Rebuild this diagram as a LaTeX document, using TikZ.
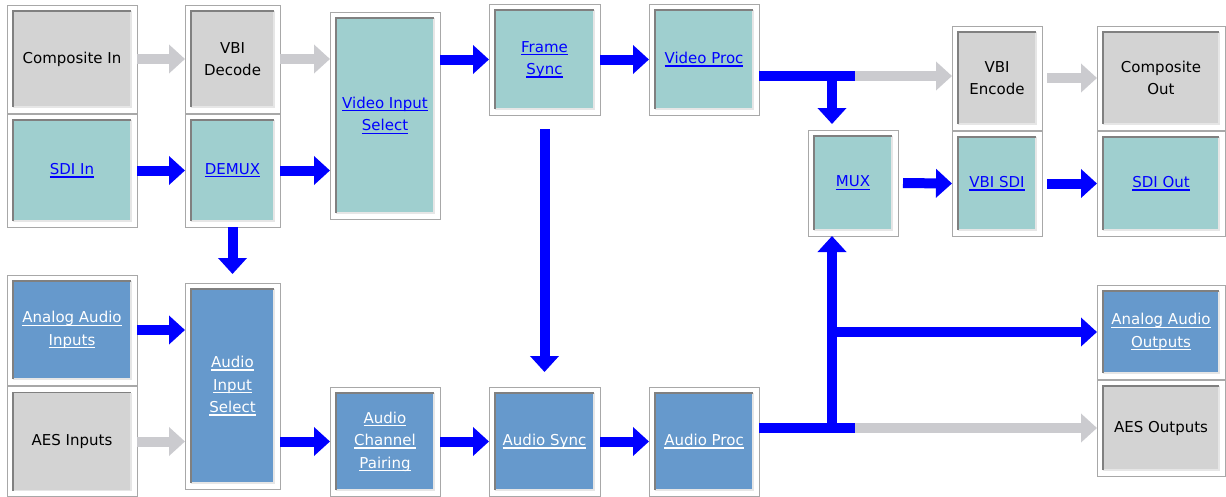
\documentclass[tikz,border=0pt]{standalone}
\usepackage{fontspec}
\setmainfont{DejaVu Sans}
\usetikzlibrary{arrows.meta,calc}
\definecolor{vidc}{HTML}{9FCFCF}
\definecolor{audc}{HTML}{6699CC}
\definecolor{grayc}{HTML}{D3D3D3}
\definecolor{garr}{HTML}{CBCBCF}
\definecolor{barb}{HTML}{0000FF}
\definecolor{linkb}{HTML}{0000FF}
\definecolor{frameD}{HTML}{A8A8A8}
\definecolor{innerD}{HTML}{808080}
\definecolor{innerL}{HTML}{E6E6E6}
\newcommand\lk[1]{\setbox0\hbox{#1}\rlap{\rule[-3pt]{\wd0}{1.3pt}}\box0}
\tikzset{
  blk/.style={draw=frameD, line width=1pt, fill=white, inner sep=0pt, outer sep=0pt,
    align=center, font=\fontsize{15}{22.5}\selectfont,
    path picture={
      \coordinate (pSW) at ($(path picture bounding box.south west)+(6,-6)$);
      \coordinate (pNE) at ($(path picture bounding box.north east)+(-6,6)$);
      \fill[#1] (pSW) rectangle (pNE);
      \draw[innerL, line width=1.5pt] (pSW) -| (pNE);
      \draw[innerD, line width=1.5pt] (pSW) |- (pNE);
    }},
  vbox/.style={blk=vidc, text=linkb},
  abox/.style={blk=audc, text=white},
  gbox/.style={blk=grayc, text=black},
  barrow/.style={draw=barb, line width=10pt, -{Triangle[width=28pt,length=16pt]}},
  garrow/.style={draw=garr, line width=10pt, -{Triangle[width=28pt,length=16pt]}},
  bline/.style={draw=barb, line width=10pt},
}
\begin{document}
\begin{tikzpicture}[x=1pt,y=-1pt]
\useasboundingbox (0,0) rectangle (1226,496);
% top left column
\node[gbox, minimum width=130pt, minimum height=108pt] (cin) at (72,59) {Composite In};
\node[vbox, minimum width=130pt, minimum height=113pt] (sdiin) at (72,170.5) {\lk{SDI In}};
\node[gbox, minimum width=95pt, minimum height=108pt] (vbid) at (232.5,59) {VBI\\Decode};
\node[vbox, minimum width=95pt, minimum height=113pt] (demux) at (232.5,170.5) {\lk{DEMUX}};
\node[vbox, minimum width=110pt, minimum height=207pt] (vis) at (385,115.5) {\lk{Video Input}\\\lk{Select}};
\node[vbox, minimum width=111pt, minimum height=111pt] (fs) at (544.5,59.5) {\lk{Frame}\\\lk{Sync}};
\node[vbox, minimum width=110pt, minimum height=111pt] (vp) at (704,59.5) {\lk{Video Proc}};
\node[vbox, minimum width=90pt, minimum height=106pt] (mux) at (853,183) {\lk{MUX}};
\node[gbox, minimum width=90pt, minimum height=104pt] (vbie) at (997,78) {VBI\\Encode};
\node[vbox, minimum width=90pt, minimum height=105pt] (vbisdi) at (997,183.5) {\lk{VBI SDI}};
\node[gbox, minimum width=128pt, minimum height=104pt] (cout) at (1161,78) {Composite\\Out};
\node[vbox, minimum width=128pt, minimum height=105pt] (sdiout) at (1161,183.5) {\lk{SDI Out}};
% audio
\node[abox, minimum width=130pt, minimum height=110pt] (aain) at (72,330) {\lk{Analog Audio}\\\lk{Inputs}};
\node[gbox, minimum width=130pt, minimum height=110pt] (aesin) at (72,441.5) {AES Inputs};
\node[abox, minimum width=95pt, minimum height=206pt] (ais) at (232.5,386) {\lk{Audio}\\\lk{Input}\\\lk{Select}};
\node[abox, minimum width=110pt, minimum height=109pt] (acp) at (385,441.5) {\lk{Audio}\\\lk{Channel}\\\lk{Pairing}};
\node[abox, minimum width=111pt, minimum height=109pt] (async) at (544.5,441.5) {\lk{Audio Sync}};
\node[abox, minimum width=110pt, minimum height=109pt] (aproc) at (704,441.5) {\lk{Audio Proc}};
\node[abox, minimum width=128pt, minimum height=94pt] (aaout) at (1161,332) {\lk{Analog Audio}\\\lk{Outputs}};
\node[gbox, minimum width=128pt, minimum height=96pt] (aesout) at (1161,428) {AES Outputs};
% junction coordinates
\coordinate (vj) at (832,76);
\coordinate (vg) at (855,76);
\coordinate (aj) at (832,428);
\coordinate (ag) at (855,428);
\coordinate (ab) at (832,332);
% video connectors
\draw[garrow] (cin.east) -- (vbid.west);
\draw[garrow] (vbid.east) -- (vbid.east -| vis.west);
\draw[barrow] (sdiin.east) -- (demux.west);
\draw[barrow] (demux.east) -- (demux.east -| vis.west);
\draw[barrow] (fs.west -| vis.east) -- (fs.west);
\draw[barrow] (fs.east) -- (vp.west);
\draw[garrow] (vg) -- (vg -| vbie.west);
\draw[bline] (vp.east |- vj) -- (vg);
\draw[barrow, shorten >=6pt] (vj) -- (vj |- mux.north);
\draw[barrow, shorten <=5pt] (mux.east) -- (vbisdi.west);
\draw[barrow, shorten <=5pt] (vbisdi.east) -- (sdiout.west);
\draw[garrow, shorten <=5pt] (vbie.east) -- (cout.west);
\draw[barrow, shorten <=14pt, shorten >=15pt] (fs.south) -- (async.north);
\draw[barrow, shorten >=9pt] (demux.south) -- (ais.north);
% audio connectors
\draw[barrow] (aain.east) -- (aain.east -| ais.west);
\draw[garrow] (aesin.east) -- (aesin.east -| ais.west);
\draw[barrow] (acp.west -| ais.east) -- (acp.west);
\draw[barrow] (acp.east) -- (async.west);
\draw[barrow] (async.east) -- (aproc.west);
\draw[garrow] (ag) -- (ag -| aesout.west);
\draw[bline] (aproc.east |- aj) -- (ag);
\draw[barrow] (aj) -- (aj |- mux.south);
\draw[barrow] (ab) -- (ab -| aaout.west);
\end{tikzpicture}
\end{document}
